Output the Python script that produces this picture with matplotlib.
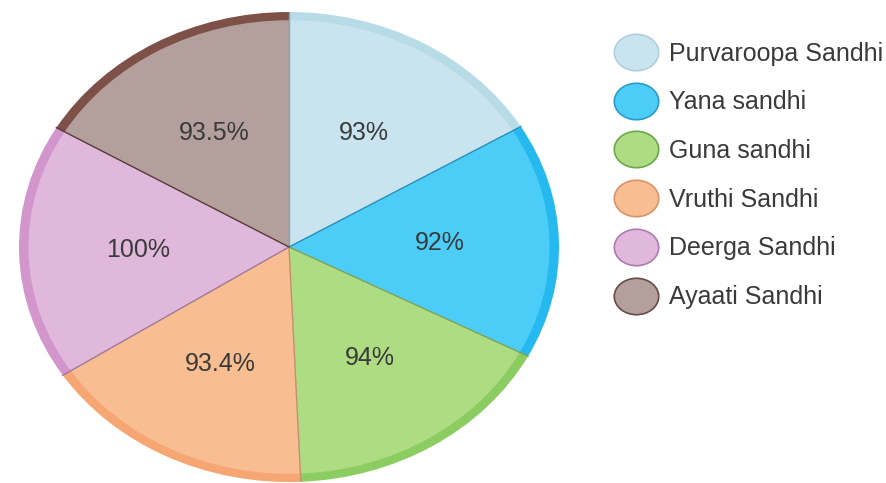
import matplotlib
matplotlib.use("Agg")
import matplotlib.pyplot as plt
from matplotlib.lines import Line2D
from matplotlib.path import Path
from matplotlib.transforms import Affine2D
import numpy as np

categories = ["Purvaroopa Sandhi", "Yana sandhi", "Guna sandhi",
              "Vruthi Sandhi", "Deerga Sandhi", "Ayaati Sandhi"]
values = [93, 92, 94, 93.4, 100, 93.5]
labels = ["93%", "92%", "94%", "93.4%", "100%", "93.5%"]

fill_colors = ["#c9e4ef", "#4ccdf7", "#addc82", "#f8bd90", "#e0b8dc", "#b3a09d"]
rim_colors = ["#b8dbe8", "#25b9ef", "#8ccd62", "#f5a673", "#d396cc", "#7d5048"]
edge_colors = ["#7aa9bd", "#2a8fb8", "#7fa35a", "#c49070", "#a07898", "#5a3a35"]
legend_edges = ["#b0cfdc", "#2a9ccc", "#6aa84a", "#d9926a", "#b07ab0", "#6a4a44"]

plt.rcParams['font.family'] = ['Liberation Sans', 'DejaVu Sans']

fig = plt.figure(figsize=(8.87, 4.83), dpi=100)
W, H = 887, 483
cx, cy, rx, ry = 289, 247, 270, 235
ax = fig.add_axes([(cx - rx) / W, (H - (cy + ry)) / H, 2 * rx / W, 2 * ry / H])

# outer darker rim
ax.pie(values, colors=rim_colors, startangle=90, counterclock=False,
       radius=1.0, wedgeprops=dict(linewidth=0))
# inner lighter fill
wedges, _ = ax.pie(values, colors=fill_colors, startangle=90, counterclock=False,
                   radius=0.965, wedgeprops=dict(linewidth=0))

# radial separator lines
for i, w in enumerate(wedges):
    t = np.deg2rad(w.theta2)
    ax.plot([0, np.cos(t)], [0, np.sin(t)], color=edge_colors[i], lw=1.0, zorder=5)

# percentage labels
for w, lab in zip(wedges, labels):
    mid = np.deg2rad((w.theta1 + w.theta2) / 2)
    r = 0.56
    ax.text(r * np.cos(mid), r * np.sin(mid), lab, ha='center', va='center',
            fontsize=18, color='#3a3a3a', zorder=6)

ax.set_aspect('auto')
ax.set_xlim(-1, 1)
ax.set_ylim(-1, 1)
ax.axis('off')

ellipse = Path.unit_circle().transformed(Affine2D().scale(1.22, 1.0))
handles = [Line2D([], [], marker=ellipse, linestyle='none', markersize=32,
                  markerfacecolor=fc, markeredgecolor=ec, markeredgewidth=1.2)
           for fc, ec in zip(fill_colors, legend_edges)]
leg = fig.legend(handles, categories, loc='upper left',
                 bbox_to_anchor=(599 / W, 1 - 29 / H), frameon=False,
                 fontsize=18, labelspacing=0.99, handletextpad=0.32,
                 handlelength=2.0, borderpad=0)
for t in leg.get_texts():
    t.set_color('#3a3a3a')

fig.savefig("out.png", dpi=100)
